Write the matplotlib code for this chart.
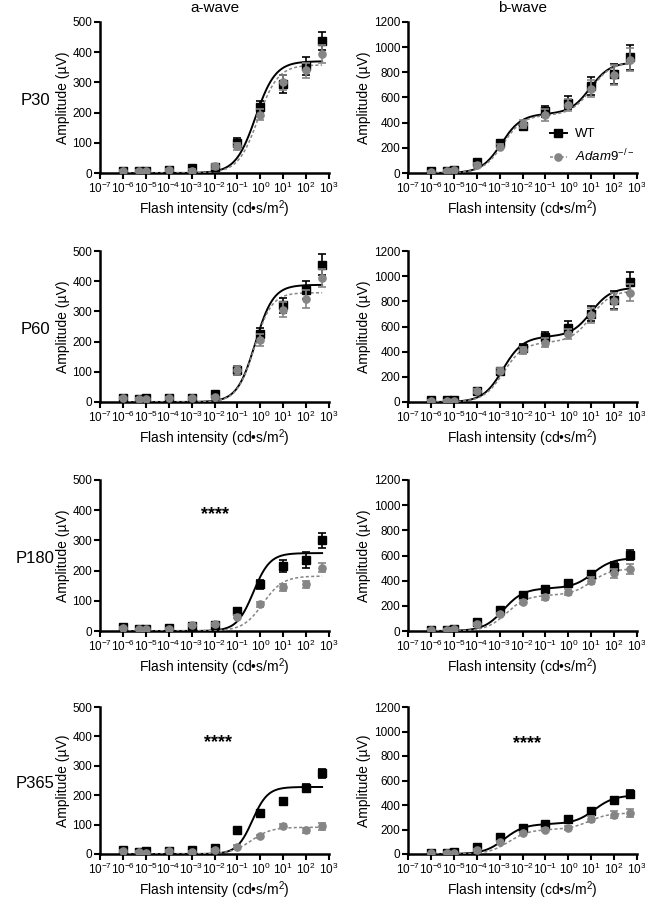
import numpy as np
import matplotlib
matplotlib.use("Agg")
import matplotlib.pyplot as plt
from matplotlib.lines import Line2D

plt.rcParams['font.family'] = ['Liberation Sans', 'DejaVu Sans']
plt.rcParams['mathtext.fontset'] = 'custom'
plt.rcParams['mathtext.rm'] = 'Liberation Sans'
plt.rcParams['mathtext.it'] = 'Liberation Sans:italic'
plt.rcParams['mathtext.default'] = 'regular'

# ---------------- data ----------------
intensity = [1e-6, 5e-6, 1e-5, 1e-4, 1e-3, 1e-2, 1e-1, 1, 10, 100, 500]
ages = ["P30", "P60", "P180", "P365"]

# a-wave means / SEM
a_wt_P30 = [8, 7, 8, 10, 17, 20, 100, 218, 295, 355, 436]
a_ko_P30 = [8, 7, 7, 10, 8, 22, 88, 193, 300, 340, 393]
a_wt_err_P30 = [3, 3, 3, 3, 5, 8, 15, 20, 30, 30, 30]
a_ko_err_P30 = [3, 3, 3, 3, 4, 8, 12, 18, 25, 25, 30]

a_wt_P60 = [12, 10, 12, 12, 14, 28, 105, 225, 320, 370, 455]
a_ko_P60 = [12, 10, 10, 12, 12, 15, 105, 205, 305, 340, 410]
a_wt_err_P60 = [3, 3, 3, 3, 4, 8, 15, 20, 25, 30, 35]
a_ko_err_P60 = [3, 3, 3, 3, 4, 6, 15, 20, 25, 30, 30]

a_wt_P180 = [12, 8, 8, 10, 18, 20, 65, 155, 215, 235, 300]
a_ko_P180 = [10, 5, 8, 8, 20, 22, 48, 88, 145, 155, 210]
a_wt_err_P180 = [3, 3, 3, 3, 4, 5, 10, 15, 20, 25, 25]
a_ko_err_P180 = [3, 3, 3, 3, 4, 5, 6, 8, 12, 12, 15]

a_wt_P365 = [12, 8, 10, 10, 15, 20, 80, 140, 180, 225, 275]
a_ko_P365 = [10, 8, 5, 10, 8, 12, 25, 60, 95, 80, 95]
a_wt_err_P365 = [3, 3, 3, 3, 4, 5, 8, 10, 10, 12, 15]
a_ko_err_P365 = [3, 3, 3, 3, 3, 4, 5, 6, 8, 10, 12]

# b-wave means / SEM
b_wt_P30 = [15, 15, 20, 85, 240, 370, 490, 560, 690, 790, 920]
b_ko_P30 = [10, 15, 20, 65, 210, 390, 460, 540, 670, 780, 900]
b_wt_err_P30 = [8, 8, 8, 15, 20, 30, 45, 50, 70, 80, 100]
b_ko_err_P30 = [8, 8, 8, 15, 20, 30, 45, 50, 70, 80, 90]

b_wt_P60 = [15, 15, 15, 90, 250, 430, 520, 590, 700, 810, 950]
b_ko_P60 = [10, 10, 10, 85, 250, 410, 470, 540, 690, 800, 870]
b_wt_err_P60 = [8, 8, 8, 15, 20, 30, 35, 50, 60, 70, 80]
b_ko_err_P60 = [8, 8, 8, 15, 20, 30, 35, 40, 60, 70, 70]

b_wt_P180 = [10, 10, 15, 70, 170, 285, 330, 380, 450, 510, 605]
b_ko_P180 = [10, 10, 15, 55, 135, 230, 270, 310, 400, 460, 490]
b_wt_err_P180 = [6, 6, 6, 10, 15, 20, 25, 25, 30, 35, 40]
b_ko_err_P180 = [6, 6, 6, 10, 12, 18, 20, 25, 30, 35, 40]

b_wt_P365 = [10, 10, 15, 55, 140, 215, 245, 285, 350, 440, 490]
b_ko_P365 = [5, 10, 10, 30, 100, 170, 200, 210, 285, 320, 335]
b_wt_err_P365 = [5, 5, 5, 8, 12, 15, 15, 18, 20, 25, 30]
b_ko_err_P365 = [5, 5, 5, 8, 10, 12, 15, 15, 25, 30, 35]

# fitted curve parameters
# a-wave: [Vmax, EC50, Hill n]
afit_wt = {"P30": [370, 0.62, 1.0], "P60": [388, 0.6, 1.1],
           "P180": [258, 0.5, 1.2], "P365": [228, 0.45, 1.3]}
afit_ko = {"P30": [358, 0.8, 1.0], "P60": [362, 0.55, 1.15],
           "P180": [182, 1.3, 1.0], "P365": [91, 0.4, 1.0]}
# b-wave: [Vmax1, k1, n1, Vmax2, k2, n2]
bfit_wt = {"P30": [470, 1.2e-3, 1.0, 410, 9.0, 1.0],
           "P60": [520, 1.4e-3, 1.0, 390, 10.0, 1.0],
           "P180": [340, 1.5e-3, 1.0, 240, 12.0, 1.0],
           "P365": [245, 1.6e-3, 1.0, 235, 14.0, 1.0]}
bfit_ko = {"P30": [460, 1.4e-3, 1.0, 420, 10.0, 1.0],
           "P60": [475, 1.5e-3, 1.0, 410, 10.0, 1.0],
           "P180": [285, 2.0e-3, 1.0, 210, 10.0, 1.0],
           "P365": [200, 2.5e-3, 1.0, 135, 8.0, 1.0]}

a_wt = {"P30": a_wt_P30, "P60": a_wt_P60, "P180": a_wt_P180, "P365": a_wt_P365}
a_ko = {"P30": a_ko_P30, "P60": a_ko_P60, "P180": a_ko_P180, "P365": a_ko_P365}
a_wt_err = {"P30": a_wt_err_P30, "P60": a_wt_err_P60, "P180": a_wt_err_P180, "P365": a_wt_err_P365}
a_ko_err = {"P30": a_ko_err_P30, "P60": a_ko_err_P60, "P180": a_ko_err_P180, "P365": a_ko_err_P365}
b_wt = {"P30": b_wt_P30, "P60": b_wt_P60, "P180": b_wt_P180, "P365": b_wt_P365}
b_ko = {"P30": b_ko_P30, "P60": b_ko_P60, "P180": b_ko_P180, "P365": b_ko_P365}
b_wt_err = {"P30": b_wt_err_P30, "P60": b_wt_err_P60, "P180": b_wt_err_P180, "P365": b_wt_err_P365}
b_ko_err = {"P30": b_ko_err_P30, "P60": b_ko_err_P60, "P180": b_ko_err_P180, "P365": b_ko_err_P365}

# significance annotations: (panel, age, x, y)
stars = [("a", "P180", 1e-2, 385), ("a", "P365", 1.4e-2, 380), ("b", "P365", 1.6e-2, 905)]


def hill(x, v, k, n):
    return v * x**n / (k**n + x**n)


GRAY = "#858585"
xfit = np.logspace(-6, np.log10(500), 400)

fig = plt.figure(figsize=(6.45, 9.0), dpi=100)
row_bottoms = [1 - 173/900, 1 - 402/900, 1 - 631/900, 1 - 854/900]
h = 151/900
lefts = [100/645, 408/645]
w = 229/645

for r, age in enumerate(ages):
    for c, wave in enumerate(["a", "b"]):
        hh = h if r < 3 else 147/900
        ax = fig.add_axes([lefts[c], row_bottoms[r], w, hh])
        if wave == "a":
            wt, ko, we, ke = a_wt[age], a_ko[age], a_wt_err[age], a_ko_err[age]
            ywt = hill(xfit, *afit_wt[age])
            yko = hill(xfit, *afit_ko[age])
            ymax, yt = 500, np.arange(0, 501, 100)
        else:
            wt, ko, we, ke = b_wt[age], b_ko[age], b_wt_err[age], b_ko_err[age]
            p, q = bfit_wt[age], bfit_ko[age]
            ywt = hill(xfit, *p[:3]) + hill(xfit, *p[3:])
            yko = hill(xfit, *q[:3]) + hill(xfit, *q[3:])
            ymax, yt = 1200, np.arange(0, 1201, 200)

        ax.plot(xfit, ywt, color="black", lw=1.4, zorder=3)
        ax.plot(xfit, yko, color=GRAY, lw=1.1, ls=(0, (2, 1.5)), zorder=3)
        ax.errorbar(intensity, wt, yerr=we, fmt="s", color="black", ms=5.2,
                    capsize=3, elinewidth=1.2, capthick=1.2, zorder=4)
        ax.errorbar(intensity, ko, yerr=ke, fmt="o", color=GRAY, ms=5.2,
                    capsize=3, elinewidth=1.2, capthick=1.2, zorder=5)

        ax.set_xscale("log")
        ax.set_xlim(1e-7, 1e3)
        ax.set_ylim(0, ymax)
        ax.set_xticks([10.0**e for e in range(-7, 4)])
        ax.set_xticklabels([r"$10^{%d}$" % e for e in range(-7, 4)])
        ax.minorticks_off()
        ax.set_yticks(yt)
        ax.tick_params(axis="both", labelsize=8.5, length=4, width=1.5,
                       direction="out", pad=1.5)
        ax.tick_params(axis="x", pad=1.5)
        for s in ["top", "right"]:
            ax.spines[s].set_visible(False)
        for s in ["left", "bottom"]:
            ax.spines[s].set_linewidth(1.8)
        ax.set_xlabel("Flash intensity (cd\u2022s/m$^2$)", fontsize=10, labelpad=1.5)
        ax.set_ylabel("Amplitude (\u00b5V)", fontsize=10, labelpad=2)

        for (sw, sa, sx, sy) in stars:
            if sw == wave and sa == age:
                ax.text(sx, sy, "****", ha="center", va="center", fontsize=13,
                        fontweight="bold")

        if r == 0:
            ax.set_title("a-wave" if wave == "a" else "b-wave", fontsize=11, pad=7)
        if c == 0:
            fig.text(35/645, row_bottoms[r] + hh*0.5 - 0.003, age, fontsize=12,
                     ha="center", va="center")
        if r == 0 and c == 1:
            handles = [Line2D([], [], color="black", marker="s", ms=5.2, lw=1.4),
                       Line2D([], [], color=GRAY, marker="o", ms=5.2, lw=1.1,
                              ls=(0, (2, 1.5)))]
            ax.legend(handles, ["WT", r"$\mathit{Adam9}^{-/-}$"], loc="lower right",
                      bbox_to_anchor=(1.04, -0.02), frameon=False, fontsize=9.5,
                      handlelength=1.3, handletextpad=0.6, labelspacing=0.55)

fig.savefig("out.png", dpi=100)
